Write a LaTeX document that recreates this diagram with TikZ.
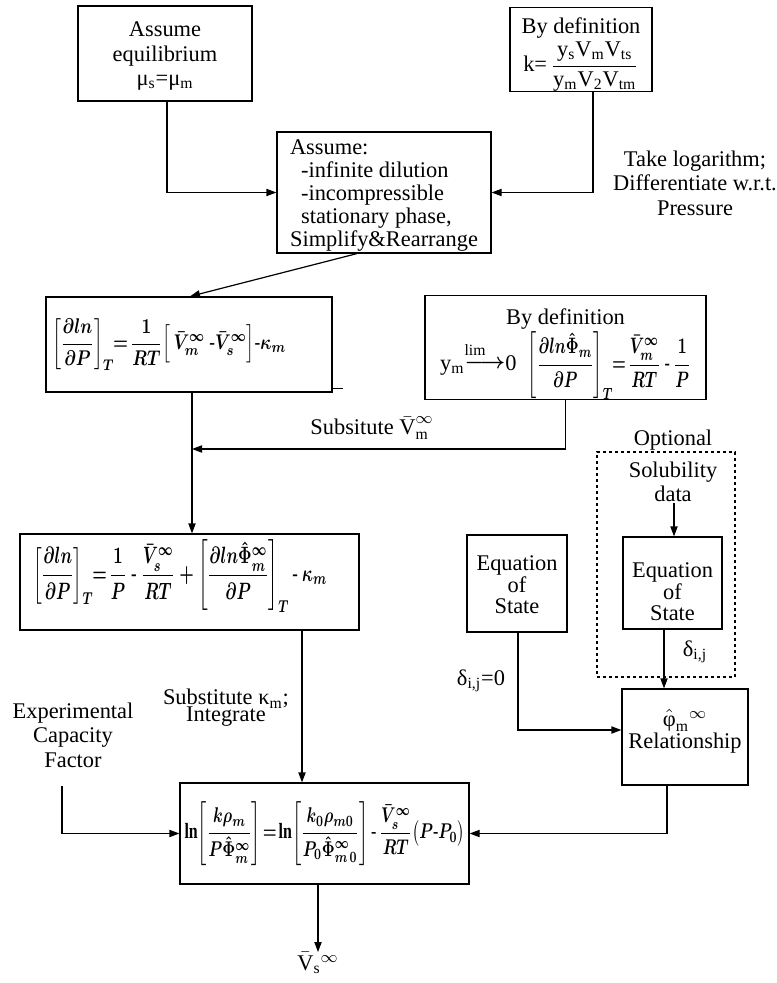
\documentclass[tikz,border=0pt]{standalone}
\usepackage{amsmath}
\usepackage{graphicx}
\usepackage{fontspec}
\setmainfont{Liberation Serif}
\usetikzlibrary{arrows.meta}
\newcommand{\myTB}[5]{\raisebox{0pt}[#1][#2]{\def\arraystretch{#3}\begin{tabular}[t]{@{}#4@{}}#5\end{tabular}}}
\newcommand{\myPhiHat}{\hat{\Phi}}
\newcommand{\myEqD}{\boldmath$\left[\dfrac{\partial ln}{\partial P}\right]_T\!\!=\!\dfrac{1}{RT}\Big[\,\bar V_m^{\infty}\ \text{-}\bar V_s^{\infty}\Big]\text{-}\kappa_m$}
\newcommand{\myEqE}{\boldmath$\left[\dfrac{\partial ln\myPhiHat_m}{\partial P}\right]_T\!\!=\!\dfrac{\bar V_m^{\infty}}{RT}\ \text{-}\ \dfrac{1}{P}$}
\newcommand{\myEqF}{\boldmath$\left[\dfrac{\partial ln}{\partial P}\right]_T\!\!=\!\dfrac{1}{P}\ \text{-}\ \dfrac{\bar V_s^{\infty}}{RT}+\left[\dfrac{\partial ln\myPhiHat_m^{\infty}}{\partial P}\right]_T\text{-}\ \kappa_m$}
\newcommand{\myEqG}{\boldmath$\mathrm{ln}\!\left[\dfrac{k\rho_m}{P\myPhiHat_m^{\infty}}\right]\!=\!\mathrm{ln}\!\left[\dfrac{k_0\rho_{m0}}{P_0\myPhiHat^{\infty}_{m\,0}}\right]\text{-}\,\dfrac{\bar V_s^{\infty}}{RT}\bigl(P\text{-}P_0\bigr)$}
\begin{document}
\begin{tikzpicture}[x=0.5pt,y=-0.5pt,
  font=\fontsize{11.2}{12.3}\selectfont,
  box/.style={draw, line width=0.6pt, inner sep=0pt, align=center},
  arr/.style={draw, line width=0.6pt, -{Triangle[length=5pt,width=3.6pt]}},
  lbl/.style={inner sep=0pt, align=center},
  ln/.style={draw, line width=0.6pt}]
\useasboundingbox (0,0) rectangle (776,983);

% boxes
\node[box, minimum width=87pt, minimum height=47.5pt] (A) at (165,53.5)
  {\myTB{15.5pt}{32pt}{0.976}{c}{Assume\\equilibrium\\μ\textsubscript{s}=μ\textsubscript{m}}};
\node[box, minimum width=71pt, minimum height=40.5pt] (B) at (581,49.5)
  {\rule{0pt}{12.7pt}By definition\\[1pt]
   k=\,$\dfrac{\text{y\textsubscript{s}V\textsubscript{m}V\textsubscript{ts}}}{\text{y\textsubscript{m}V\textsubscript{2}V\textsubscript{tm}}}$};
\node[box, minimum width=107pt, minimum height=60.5pt] (C) at (384,192.5)
  {\myTB{11.5pt}{49pt}{0.935}{l}{Assume:\\\hspace*{5.5pt}-infinite dilution\\\hspace*{5.5pt}-incompressible\\\hspace*{5.5pt}stationary phase,\\Simplify\&Rearrange}};
\node[box, minimum width=143pt, minimum height=47.5pt] (D) at (189,344.5)
  {\makebox[137pt][l]{\resizebox*{117pt}{26pt}{\myEqD}}};
\node[box, minimum width=140.5pt, minimum height=47.5pt] (E) at (565.5,347.5)
  {\rule{0pt}{14.6pt}By definition\\[0pt]
   y\textsubscript{m}\raisebox{1pt}{$\overset{\text{lim}\hspace{10pt}}{\boldsymbol{\longrightarrow}}$}0\ \ \resizebox*{81.5pt}{34pt}{\myEqE}};
\node[box, minimum width=169.5pt, minimum height=48pt] (F) at (189.5,582)
  {\makebox[156.5pt][l]{\raisebox{3pt}[\height][\depth]{\resizebox*{147pt}{36pt}{\myEqF}}}};
\node[box, minimum width=144.5pt, minimum height=50.5pt] (G) at (324.5,833.5)
  {\resizebox*{140pt}{32pt}{\myEqG}};
\node[box, minimum width=63pt, minimum height=48pt] (H) at (685,737)
  {\myTB{18.5pt}{29.5pt}{0.894}{c}{$\hat{\text{φ}}_{\text{m}}{}^{\infty}$\\Relationship}};
\node[box, minimum width=50pt, minimum height=48.5pt] (I) at (517,583.5)
  {\myTB{17.5pt}{31pt}{0.874}{c}{Equation\\of\\State}};
\node[box, minimum width=49.5pt, minimum height=46pt] (K) at (672.5,583)
  {\myTB{20pt}{26pt}{0.874}{c}{Equation\\of\\State}};
\node[draw, line width=0.6pt, dash pattern=on 1.5pt off 1.5pt, minimum width=69pt, minimum height=112.5pt, inner sep=0pt] (J) at (666,564.5) {};

% labels
\node[lbl] (tl) at (695,183) {Take logarithm;\\Differentiate w.r.t.\\Pressure};
\node[lbl] (sv) at (372,428) {Subsitute $\bar{\text{V}}^{\infty}_{\text{m}}$};
\node[lbl] (sk) at (226,708) {Substitute κ\textsubscript{m};\\[-3.8pt]Integrate};
\node[lbl] (exp) at (73,735) {Experimental\\Capacity\\Factor};
\node[lbl] (d0) at (481,681) {δ\textsubscript{i,j}=0};
\node[lbl] (d1) at (695,652) {δ\textsubscript{i,j}};
\node[lbl] (opt) at (673,440) {Optional};
\node[lbl] (sol) at (673,482) {Solubility\\data};
\node[lbl] (vs) at (318,963) {$\bar{\text{V}}_{\text{s}}{}^{\infty}$};

\coordinate (j1) at (192,449);
\coordinate (expend) at (62,786);

% connectors
\draw[arr] (167,0 |- A.south) |- (C.west);
\draw[arr] (593,0 |- B.south) |- (C.east);
\draw[arr] (357,0 |- C.south) -- (190,0 |- D.north);
\draw[ln] (D.south east) ++(0,-4) -- ++(10,0);
\draw[arr] (192,0 |- D.south) -- (192,0 |- F.north);
\draw[arr] (E.south) |- (j1);
\draw[arr] (302,0 |- F.south) -- (302,0 |- G.north);
\draw[arr] (expend) |- (G.west);
\draw[arr] (667,0 |- H.south) |- (G.east);
\draw[arr] (518,0 |- I.south) |- (H.west |- 0,730);
\draw[arr] (664,0 |- K.south) -- (664,0 |- H.north);
\draw[arr] (674,0 |- sol.south) -- (674,0 |- K.north);
\draw[arr] (318,0 |- G.south) -- (318,0 |- vs.north);
\end{tikzpicture}
\end{document}
